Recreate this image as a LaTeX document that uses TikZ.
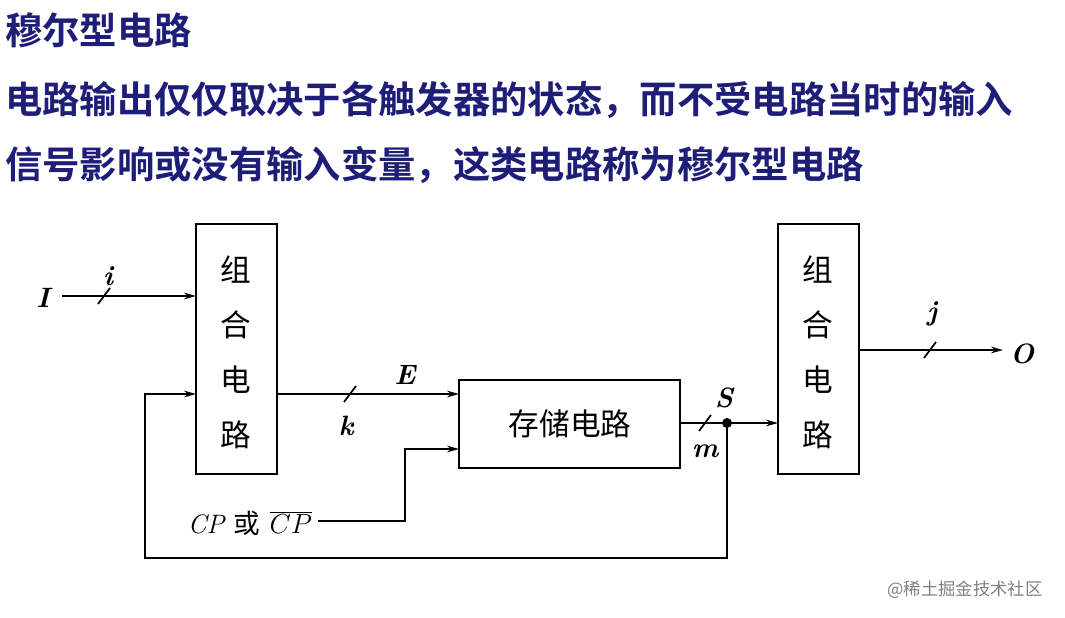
\documentclass[tikz,border=0pt]{standalone}
\usepackage{fontspec}
\newfontfamily\cjk{Noto Sans CJK SC}
\newfontfamily\cjkb{Noto Sans CJK SC Bold}
\usetikzlibrary{arrows.meta}
\definecolor{navy}{RGB}{30,30,120}
\begin{document}
\begin{tikzpicture}[x=0.75pt,y=-0.75pt,
  box/.style={draw,line width=2.2pt},
  ln/.style={line width=1.3pt},
  arr/.style={ln,-{Stealth[length=9pt,width=5pt]}},
  hd/.style={anchor=west,text=navy,font=\cjkb\fontsize{28}{28}\selectfont,inner sep=0},
  bc/.style={font=\cjk\fontsize{23}{23}\selectfont},
  lb/.style={font=\bfseries\itshape\fontsize{21}{21}\selectfont},
  sl/.style={ln}]
\useasboundingbox (0,0) rectangle (1065,618);
\node[hd] (t1) at (5,30) {穆尔型电路};
\node[hd] (t2) at (5,100) {电路输出仅仅取决于各触发器的状态，而不受电路当时的输入};
\node[hd] (t3) at (5,165) {信号影响或没有输入变量，这类电路称为穆尔型电路};
\draw[box] (196,224) rectangle (277,474);
\draw[box] (778,224) rectangle (859,474);
\draw[box] (459,380) rectangle (680,468);
\foreach \x/\n in {236/L,818/R}{
 \node[bc] (\n1) at (\x,270) {组};
 \node[bc] (\n2) at (\x,325) {合};
 \node[bc] (\n3) at (\x,380) {电};
 \node[bc] (\n4) at (\x,435) {路};}
\node[bc] (mem) at (570,424) {存储电路};
\node[lb] (I) at (43,298) {I};
\draw[arr] (62,296) -- (196,296);
\draw[sl] (98,304) -- (110,288);
\node[lb] (i) at (108,276) {i};
\draw[arr] (859,350) -- (1003,350);
\draw[sl] (924,358) -- (936,342);
\node[lb] (j) at (932,314) {j};
\node[lb] (O) at (1022,354) {O};
\draw[arr] (277,394) -- (459,394);
\draw[sl] (344,402) -- (356,386);
\node[lb] (k) at (346,426) {k};
\node[lb] (E) at (405,375) {E};
\draw[arr] (680,423) -- (778,423);
\draw[sl] (699,431) -- (711,415);
\fill (727,423) circle (5);
\node[lb] (S) at (724,398) {S};
\node[lb] (m) at (705,451) {m};
\draw[arr] (727,423) -- (727,558) -- (145,558) -- (145,394) -- (196,394);
\node (cp) at (250,523) {\fontsize{20}{20}\selectfont\itshape CP {\upshape\cjk 或} $\overline{CP}$};
\draw[arr] (318,521) -- (405,521) -- (405,449) -- (459,449);
\node[text=gray,font=\cjk\fontsize{13}{13}\selectfont] (wm) at (965,590) {@稀土掘金技术社区};
\end{tikzpicture}
\end{document}
